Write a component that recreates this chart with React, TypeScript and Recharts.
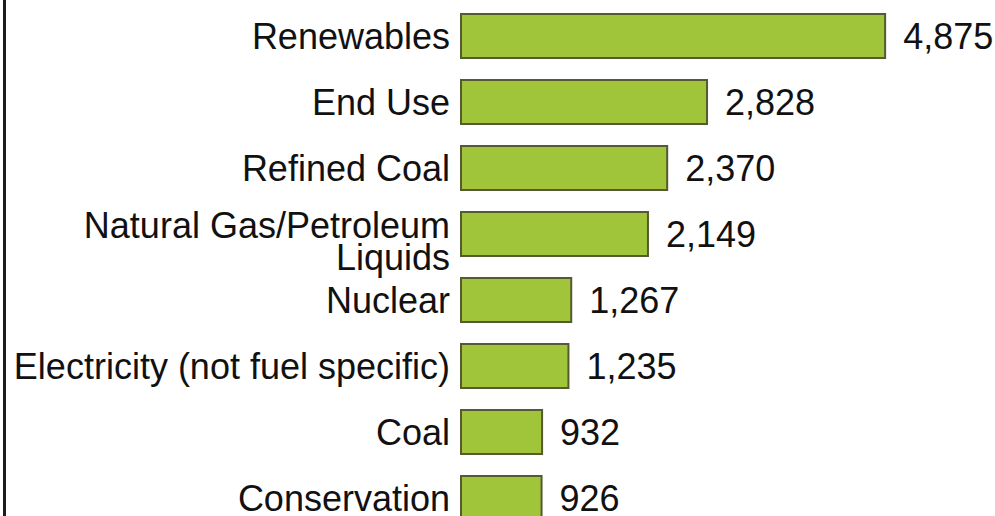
import React from 'react';
import { BarChart, Bar, XAxis, YAxis, LabelList } from 'recharts';

const categories = [
  'Renewables',
  'End Use',
  'Refined Coal',
  'Natural Gas/Petroleum Liquids',
  'Nuclear',
  'Electricity (not fuel specific)',
  'Coal',
  'Conservation',
];
const amounts = [4875, 2828, 2370, 2149, 1267, 1235, 932, 926];

const data = categories.map((name, i) => ({ name, amount: amounts[i] }));

const FONT = '"Liberation Sans", Arial, sans-serif';
const FONT_SIZE = 36;

let ctx: CanvasRenderingContext2D | null = null;
const measure = (s: string) => {
  if (!ctx) {
    ctx = document.createElement('canvas').getContext('2d');
  }
  if (!ctx) return s.length * FONT_SIZE * 0.5;
  ctx.font = `${FONT_SIZE}px ${FONT}`;
  return ctx.measureText(s).width;
};

// simple word wrap to the width left of the bars
const wrap = (label: string, maxWidth: number) => {
  const words = label.split(' ');
  const lines: string[] = [];
  let cur = '';
  words.forEach((w) => {
    const next = cur ? `${cur} ${w}` : w;
    if (cur && measure(next) > maxWidth) {
      lines.push(cur);
      cur = w;
    } else {
      cur = next;
    }
  });
  if (cur) lines.push(cur);
  return lines;
};

const CategoryTick = (props: any) => {
  const { x, y, payload } = props;
  const lines = wrap(String(payload.value), 445);
  const lh = 32;
  const start = -((lines.length - 1) * lh) / 2 + (lines.length > 1 ? 7 : 0);
  return (
    <text
      x={x - 3}
      y={y}
      textAnchor="end"
      fontSize={FONT_SIZE}
      fontFamily={FONT}
      fill="#111"
    >
      {lines.map((ln, i) => (
        <tspan key={i} x={x - 3} y={y + start + i * lh} dy="0.355em">
          {ln}
        </tspan>
      ))}
    </text>
  );
};

export default function App() {
  return (
    <div
      style={{
        position: 'fixed',
        top: 0,
        left: 0,
        width: 995,
        height: 516,
        overflow: 'hidden',
        background: '#fff',
      }}
    >
      <div style={{ position: 'absolute', left: 3, top: 0, width: 3, height: 516, background: '#1c1c1c' }} />
      <BarChart
        width={995}
        height={531}
        data={data}
        layout="vertical"
        margin={{ top: 3, right: 99, bottom: 0, left: 0 }}
      >
        <XAxis type="number" domain={[0, 5000]} hide />
        <YAxis
          type="category"
          dataKey="name"
          width={461}
          axisLine={false}
          tickLine={false}
          interval={0}
          tick={<CategoryTick />}
        />
        <Bar dataKey="amount" barSize={44} fill="#a0c53b" stroke="#555a30" strokeWidth={2} isAnimationActive={false}>
          <LabelList
            dataKey="amount"
            position="right"
            offset={18}
            formatter={(v: any) => Number(v).toLocaleString('en-US')}
            style={{ fontSize: FONT_SIZE, fontFamily: FONT, fill: '#111' }}
          />
        </Bar>
      </BarChart>
    </div>
  );
}
